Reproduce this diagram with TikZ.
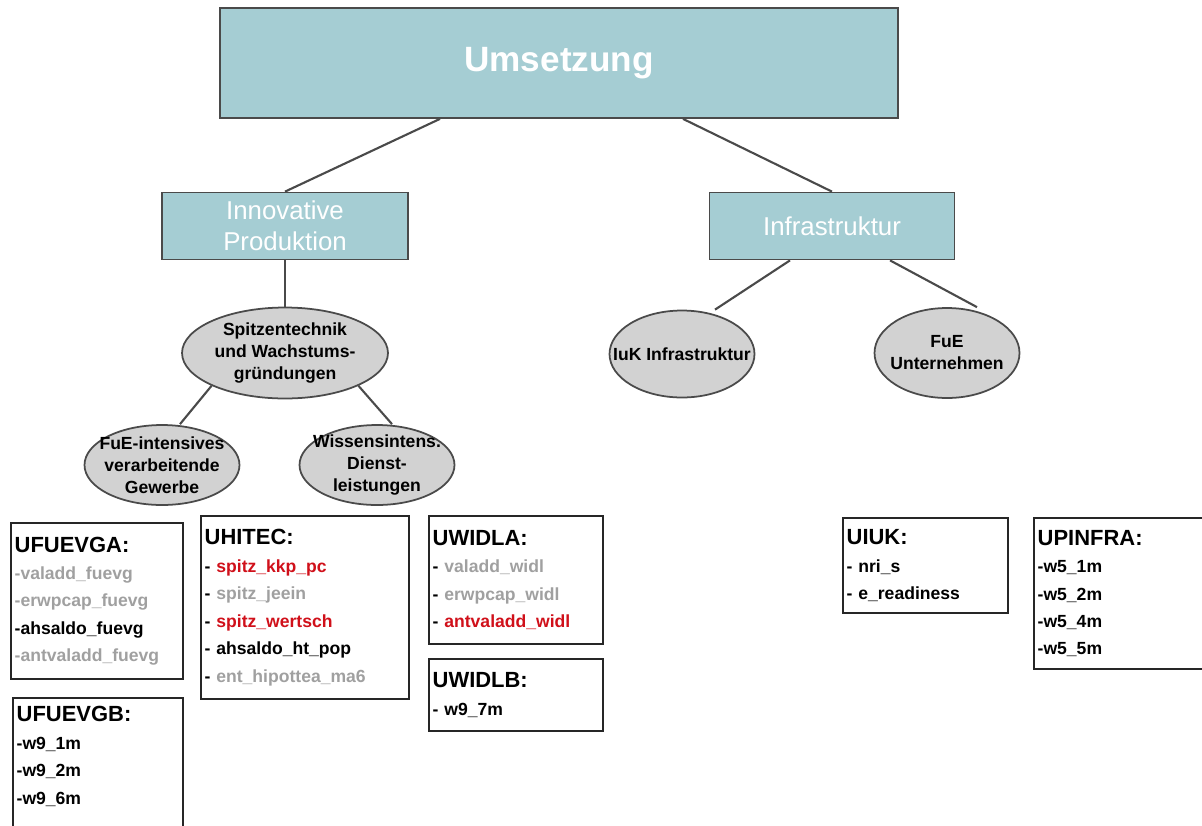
\documentclass[tikz,border=0pt]{standalone}
\usepackage{fontspec}
\setmainfont{Liberation Sans}
\usepackage{xcolor}
\usepackage{tikz}
\usetikzlibrary{positioning,shapes.geometric}
\definecolor{tealbox}{HTML}{A5CDD3}
\definecolor{ovalgray}{HTML}{D2D2D2}
\definecolor{edgegray}{HTML}{4A4A4A}
\definecolor{dimtext}{HTML}{A0A0A0}
\definecolor{hitext}{HTML}{D0101A}
\tikzset{
  head/.style ={rectangle, draw=edgegray, line width=1pt, fill=tealbox,
                text=white, align=center, inner sep=0pt},
  topic/.style={ellipse, draw=edgegray, line width=1pt, fill=ovalgray,
                align=center, inner sep=-10pt,
                font=\fontsize{10}{12.5}\selectfont\bfseries},
  var/.style  ={rectangle, draw=black!85, line width=1.3pt, anchor=north west,
                align=left, inner xsep=2pt, inner ysep=0pt,
                font=\fontsize{10}{15.6}\selectfont\bfseries},
  link/.style ={draw=edgegray, line width=1.2pt},
}
\newcommand{\vartitle}[1]{{\fontsize{12.5}{15.6}\selectfont #1}}
\newcommand{\dimitem}[1]{{\color{dimtext}#1}}
\newcommand{\hiitem}[1]{{\color{hitext}#1}}

\begin{document}
\begin{tikzpicture}[x=0.02cm, y=-0.02cm]
  \useasboundingbox (0,0) rectangle (1202,825);

  % top level
  \node[head, minimum width=13.56cm, minimum height=2.2cm,
        font=\fontsize{20}{24}\selectfont\bfseries] (top) at (559,63) {Umsetzung};
  \node[head, minimum width=4.92cm, minimum height=1.34cm,
        font=\fontsize{14.7}{17.5}\selectfont] (inno) at (285,226) {Innovative\\Produktion};
  \node[head, minimum width=4.9cm, minimum height=1.34cm,
        font=\fontsize{14.7}{17.5}\selectfont] (infra) at (832,226) {Infrastruktur};

  % ovals
  \node[topic, minimum width=4.12cm, minimum height=1.82cm] (spitz) at (285,353)
    {Spitzentechnik\\und Wachstums-\\gründungen};
  \node[topic, minimum width=3.1cm, minimum height=1.6cm] (fue) at (162,465)
    {FuE-intensives\\verarbeitende\\Gewerbe};
  \node[topic, minimum width=3.1cm, minimum height=1.6cm] (wiss) at (377,465)
    {Wissensintens.\\Dienst-\\leistungen};
  \node[topic, minimum width=2.9cm, minimum height=1.74cm] (iuk) at (682,354)
    {IuK Infrastruktur};
  \node[topic, minimum width=2.9cm, minimum height=1.8cm] (fueu) at (947,353)
    {FuE\\Unternehmen};

  \draw[link] ([xshift=-2.38cm]top.south) -- (inno.north);
  \draw[link] ([xshift=2.48cm]top.south) -- (infra.north);
  \draw[link] (inno.south) -- (spitz.north);
  \draw[link] (spitz.south west) -- ([xshift=0.36cm]fue.north);
  \draw[link] (spitz.south east) -- ([xshift=0.3cm]wiss.north);
  \draw[link] ([xshift=-0.84cm]infra.south) -- ([xshift=0.66cm]iuk.north);
  \draw[link] ([xshift=1.16cm]infra.south) -- ([xshift=0.6cm]fueu.north);

  % variable boxes
  \node[var, minimum width=3.44cm, minimum height=3.12cm, text width=3.3cm] (ufuevga) at (10,522)
    {\vartitle{UFUEVGA:}\\
     \dimitem{-valadd\_fuevg}\\
     \dimitem{-erwpcap\_fuevg}\\
     -ahsaldo\_fuevg\\
     \dimitem{-antvaladd\_fuevg}};
  \node[var, minimum width=3.4cm, minimum height=3cm, text width=3.26cm] (ufuevgb) at (12,697)
    {\vartitle{UFUEVGB:}\\
     -w9\_1m\\
     -w9\_2m\\
     -w9\_6m\\
     \strut};
  \node[var, minimum width=4.16cm, minimum height=3.66cm, text width=4.02cm] (uhitec) at (200,515)
    {\vartitle{UHITEC:}\\
     - \hiitem{spitz\_kkp\_pc}\\
     - \dimitem{spitz\_jeein}\\
     - \hiitem{spitz\_wertsch}\\
     - ahsaldo\_ht\_pop\\
     - \dimitem{ent\_hipottea\_ma6}};
  \node[var, minimum width=3.48cm, minimum height=2.56cm, text width=3.34cm] (uwidla) at (428,515)
    {\vartitle{UWIDLA:}\\
     - \dimitem{valadd\_widl}\\
     - \dimitem{erwpcap\_widl}\\
     - \hiitem{antvaladd\_widl}};
  \node[var, minimum width=3.48cm, minimum height=1.44cm, text width=3.34cm] (uwidlb) at (428,658)
    {\vartitle{UWIDLB:}\\
     - w9\_7m};
  \node[var, minimum width=3.3cm, minimum height=1.9cm, text width=3.16cm] (uiuk) at (842,517)
    {\vartitle{UIUK:}\\
     - nri\_s\\
     - e\_readiness};
  \node[var, minimum width=3.6cm, minimum height=3.02cm, text width=3.46cm] (upinfra) at (1033,517)
    {\vartitle{UPINFRA:}\\
     -w5\_1m\\
     -w5\_2m\\
     -w5\_4m\\
     -w5\_5m};
\end{tikzpicture}
\end{document}
